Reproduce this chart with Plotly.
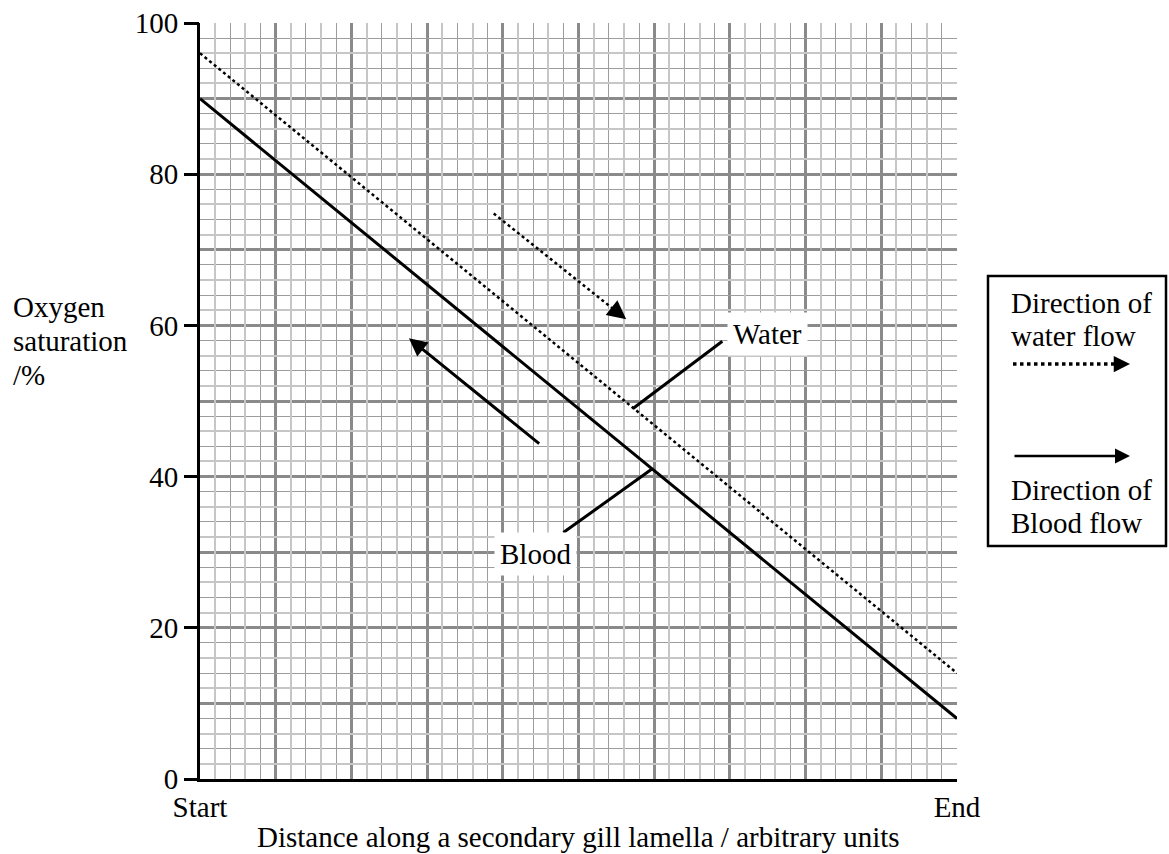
import plotly.graph_objects as go

# ---- data ----
distance = [0, 10]
blood_sat = [90, 8]
water_sat = [96, 14]

x_tickvals = [0, 10]
x_ticktext = ["Start", "End"]
y_tickvals = [0, 20, 40, 60, 80, 100]
y_ticktext = ["0", "20", "40", "60", "80", "100"]

water_dir_x = [3.88, 5.63]
water_dir_y = [74.8, 60.8]
blood_dir_x = [4.50, 2.76]
blood_dir_y = [44.2, 58.3]

water_leader_x = [6.90, 5.72]
water_leader_y = [57.9, 49.0]
blood_leader_x = [4.80, 5.97]
blood_leader_y = [32.6, 41.0]

water_label = ("Water", 7.50, 58.9)
blood_label = ("Blood", 4.43, 29.8)

y_title_lines = ["Oxygen", "saturation", "/%"]
legend_lines_top = ["Direction of", "water flow"]
legend_lines_bottom = ["Direction of", "Blood flow"]

FONT = "Liberation Serif, Times New Roman, serif"
FS = 29

# grid-paper styling positions (alternating light/dark minor lines)
x_light_minor = [round(k + f, 2) for k in range(10) for f in (0.2, 0.6)]
x_dark_minor = [round(k + f, 2) for k in range(10) for f in (0.4, 0.8)]
y_light_minor = [k + f for k in range(0, 100, 10) for f in (2, 6)]
y_dark_minor = [k + f for k in range(0, 100, 10) for f in (4, 8)]

W, H = 1169, 854
L, R, T, B = 200, 957, 23, 779
fig = go.Figure()

# dummy traces to activate overlay axes
fig.add_trace(go.Scatter(x=[None], y=[None], xaxis="x3", yaxis="y4", showlegend=False, hoverinfo="skip"))
fig.add_trace(go.Scatter(x=[None], y=[None], xaxis="x2", yaxis="y3", showlegend=False, hoverinfo="skip"))
fig.add_trace(go.Scatter(x=[None], y=[None], yaxis="y2", showlegend=False, hoverinfo="skip"))

# main lines
fig.add_trace(go.Scatter(x=distance, y=water_sat, mode="lines",
                         line=dict(color="black", width=2.5, dash="dot"),
                         showlegend=False, hoverinfo="skip"))
fig.add_trace(go.Scatter(x=distance, y=blood_sat, mode="lines",
                         line=dict(color="black", width=3),
                         showlegend=False, hoverinfo="skip"))

# water direction dotted arrow shaft (stop slightly before tip)
fx = water_dir_x[0] + 0.92 * (water_dir_x[1] - water_dir_x[0])
fy = water_dir_y[0] + 0.92 * (water_dir_y[1] - water_dir_y[0])
fig.add_trace(go.Scatter(x=[water_dir_x[0], fx], y=[water_dir_y[0], fy], mode="lines",
                         line=dict(color="black", width=2.5, dash="dot"),
                         showlegend=False, hoverinfo="skip"))
fig.add_annotation(x=water_dir_x[1], y=water_dir_y[1], ax=fx, ay=fy,
                   xref="x", yref="y", axref="x", ayref="y", text="",
                   showarrow=True, arrowhead=2, arrowsize=1.5, arrowwidth=2.5,
                   arrowcolor="black")

# blood direction arrow
fig.add_annotation(x=blood_dir_x[1], y=blood_dir_y[1], ax=blood_dir_x[0], ay=blood_dir_y[0],
                   xref="x", yref="y", axref="x", ayref="y", text="",
                   showarrow=True, arrowhead=2, arrowsize=1.2, arrowwidth=3,
                   arrowcolor="black")

# leader lines
for lx, ly in [(water_leader_x, water_leader_y), (blood_leader_x, blood_leader_y)]:
    fig.add_trace(go.Scatter(x=lx, y=ly, mode="lines",
                             line=dict(color="black", width=3),
                             showlegend=False, hoverinfo="skip"))

# labels
for txt, lx, ly in [water_label, blood_label]:
    fig.add_annotation(x=lx, y=ly, xref="x", yref="y", text=txt, showarrow=False,
                       font=dict(family=FONT, size=FS, color="black"),
                       bgcolor="white", borderpad=5)


def px_x(p):
    return (p - L) / (R - L)


def px_y(p):
    return (B - p) / (B - T)


def text_lines(lines, x_left, y_first, step):
    for i, s in enumerate(lines):
        fig.add_annotation(xref="paper", yref="paper", x=px_x(x_left), y=px_y(y_first + i * step),
                           xanchor="left", yanchor="middle", align="left", showarrow=False,
                           text=s, font=dict(family=FONT, size=FS, color="black"))


# y-axis title
text_lines(y_title_lines, 11, 307, 34)
# x-axis title
fig.add_annotation(xref="paper", yref="paper", x=0.5, y=px_y(837),
                   xanchor="center", yanchor="middle", showarrow=False,
                   text="Distance along a secondary gill lamella / arbitrary units",
                   font=dict(family=FONT, size=FS, color="black"))

# legend box
fig.add_shape(type="rect", xref="paper", yref="paper",
              x0=px_x(988), x1=px_x(1166), y0=px_y(546), y1=px_y(276),
              line=dict(color="black", width=2.5), fillcolor="white")
text_lines(legend_lines_top, 1009, 303, 33)
text_lines(legend_lines_bottom, 1009, 490, 33)
# legend dotted arrow
fig.add_shape(type="line", xref="paper", yref="paper",
              x0=px_x(1013), x1=px_x(1117), y0=px_y(364), y1=px_y(364),
              line=dict(color="black", width=3.5, dash="dot"))
fig.add_annotation(xref="paper", yref="paper", x=px_x(1130), y=px_y(364),
                   axref="pixel", ayref="pixel", ax=-14, ay=0, text="",
                   showarrow=True, arrowhead=2, arrowsize=1.3, arrowwidth=2.5, arrowcolor="black")
# legend solid arrow
fig.add_annotation(xref="paper", yref="paper", x=px_x(1130), y=px_y(456),
                   axref="pixel", ayref="pixel", ax=-117, ay=0, text="",
                   showarrow=True, arrowhead=2, arrowsize=1.2, arrowwidth=2.5, arrowcolor="black")

MAJOR = "#8a8a8a"
LIGHT = "#c6c6c6"
DARK = "#9c9c9c"


def grid_axis(vals, color, width, overlay):
    return dict(range=[0, 10] if overlay == "x" else [0, 100], overlaying=overlay,
                tickvals=vals, showticklabels=False, ticks="",
                showgrid=True, gridcolor=color, gridwidth=width,
                showline=False, zeroline=False, fixedrange=True)


fig.update_layout(
    width=W, height=H,
    margin=dict(l=L, r=W - R, t=T, b=H - B, autoexpand=False),
    plot_bgcolor="white", paper_bgcolor="white",
    showlegend=False,
    font=dict(family=FONT, size=FS, color="black"),
    xaxis=dict(range=[0, 10], tickvals=list(range(0, 11)),
               ticktext=[x_ticktext[x_tickvals.index(v)] if v in x_tickvals else "" for v in range(0, 11)],
               showgrid=True, gridcolor=MAJOR, gridwidth=3,
               showline=True, linecolor="black", linewidth=3,
               ticks="", zeroline=False, fixedrange=True,
               tickfont=dict(family=FONT, size=FS, color="black")),
    xaxis2=grid_axis(x_dark_minor, DARK, 1, "x"),
    xaxis3=grid_axis(x_light_minor, LIGHT, 2, "x"),
    yaxis=dict(range=[0, 100], tickvals=list(range(0, 101, 10)),
               showticklabels=False, ticks="",
               showgrid=True, gridcolor=MAJOR, gridwidth=3,
               showline=True, linecolor="black", linewidth=3,
               zeroline=False, fixedrange=True),
    yaxis2=dict(range=[0, 100], overlaying="y", side="left",
                tickvals=y_tickvals, ticktext=y_ticktext,
                ticks="outside", ticklen=15, tickwidth=3, tickcolor="black",
                showgrid=False, showline=False, zeroline=False, fixedrange=True,
                tickfont=dict(family=FONT, size=FS, color="black")),
    yaxis3=grid_axis(y_dark_minor, DARK, 1, "y"),
    yaxis4=grid_axis(y_light_minor, LIGHT, 2, "y"),
)

fig.write_html("out.html")
